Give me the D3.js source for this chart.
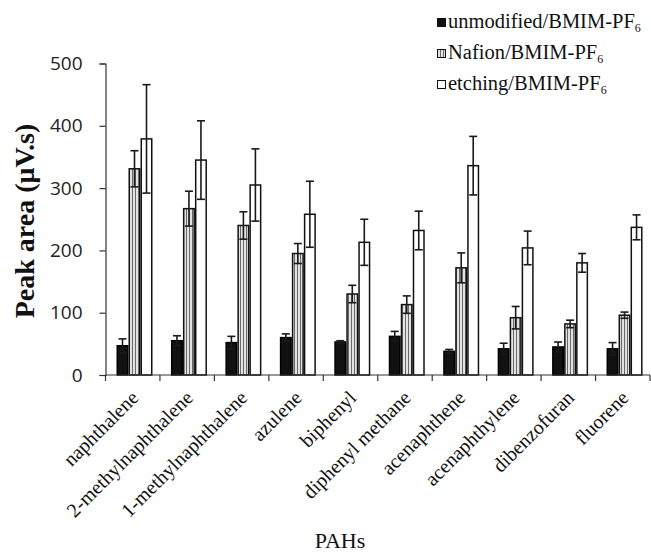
<!DOCTYPE html>
<html>
<head>
<meta charset="utf-8">
<script src="https://cdn.jsdelivr.net/npm/d3@7"></script>
<style>
  html, body { margin: 0; padding: 0; background: #fff; }
  svg { display: block; }
</style>
</head>
<body>
<script>
const categories = ["naphthalene","2-methylnaphthalene","1-methylnaphthalene","azulene","biphenyl","diphenyl methane","acenaphthene","acenaphthylene","dibenzofuran","fluorene"];
const seriesNames = ["unmodified/BMIM-PF", "Nafion/BMIM-PF", "etching/BMIM-PF"];
const unmodified    = [47, 55, 52, 60, 53, 62, 38, 42, 45, 42];
const unmodifiedErr = [11, 8, 10, 6, 2, 8, 3, 9, 8, 10];
const nafion        = [331, 267, 240, 195, 130, 113, 172, 92, 82, 96];
const nafionErr     = [29, 28, 22, 16, 14, 14, 24, 18, 6, 5];
const etching       = [379, 345, 305, 258, 213, 232, 336, 204, 180, 237];
const etchingErr    = [87, 63, 58, 53, 37, 31, 47, 27, 15, 20];
const yTicks = [0, 100, 200, 300, 400, 500];

const W = 651, H = 553;
const svg = d3.select("body").append("svg").attr("width", W).attr("height", H);

const defs = svg.append("defs");
const pat = defs.append("pattern").attr("id", "stripes").attr("patternUnits", "userSpaceOnUse")
  .attr("width", 3).attr("height", 4);
pat.append("rect").attr("width", 3).attr("height", 4).attr("fill", "#e2e2e2");
pat.append("rect").attr("x", 0).attr("width", 1).attr("height", 4).attr("fill", "#6a6a6a");

const x0 = 105.5, x1 = 650, yTop = 63.5, yBot = 375;
const x = d3.scaleBand().domain(categories).range([x0, x1]).paddingInner(0).paddingOuter(0);
const y = d3.scaleLinear().domain([0, 500]).range([yBot, yTop]);
const sub = d3.scaleBand().domain([0,1,2]).range([11, 47]).padding(0);

const series = [
  {vals: unmodified, errs: unmodifiedErr, fill: "#111", stroke: "#000"},
  {vals: nafion, errs: nafionErr, fill: "url(#stripes)", stroke: "#111"},
  {vals: etching, errs: etchingErr, fill: "#fff", stroke: "#111"}
];

const g = svg.append("g");
series.forEach((s, si) => {
  categories.forEach((c, i) => {
    const bx = x(c) + sub(si);
    const bw = sub.bandwidth();
    g.append("rect")
      .attr("x", bx + 0.75).attr("y", y(s.vals[i]))
      .attr("width", bw - 1.5).attr("height", y(0) - y(s.vals[i]))
      .attr("fill", s.fill).attr("stroke", s.stroke).attr("stroke-width", 1.5);
  });
});
// error bars
series.forEach((s, si) => {
  categories.forEach((c, i) => {
    const cx = x(c) + sub(si) + sub.bandwidth() / 2;
    const top = y(s.vals[i] + s.errs[i]), bot = y(s.vals[i] - s.errs[i]);
    const eg = g.append("g").attr("stroke", "#1a1a1a").attr("stroke-width", 1.6);
    eg.append("line").attr("x1", cx).attr("x2", cx).attr("y1", top).attr("y2", bot);
    eg.append("line").attr("x1", cx - 4).attr("x2", cx + 4).attr("y1", top).attr("y2", top);
    eg.append("line").attr("x1", cx - 4).attr("x2", cx + 4).attr("y1", bot).attr("y2", bot);
  });
});

// y axis
const yAxis = d3.axisLeft(y).tickValues(yTicks).tickSize(6).tickPadding(17);
const ya = svg.append("g").attr("transform", `translate(${x0},0)`).call(yAxis);
ya.select(".domain").attr("stroke", "#333").attr("stroke-width", 1.2);
ya.selectAll(".tick line").attr("stroke", "#333").attr("stroke-width", 1.2);
ya.selectAll(".tick text").attr("font-family", "'Open Sans', sans-serif").attr("font-size", 19).attr("fill", "#222");

// x axis with ticks at category boundaries
const xa = svg.append("g").attr("transform", `translate(0,${yBot})`);
xa.append("line").attr("x1", x0).attr("x2", x1).attr("stroke", "#333").attr("stroke-width", 1.2);
const bounds = categories.map(c => x(c) + x.bandwidth()).concat([x0]);
xa.selectAll("line.tk").data(bounds).enter().append("line").attr("class", "tk")
  .attr("x1", d => d).attr("x2", d => d).attr("y1", 0).attr("y2", 6)
  .attr("stroke", "#333").attr("stroke-width", 1.2);
xa.selectAll("text").data(categories).enter().append("text")
  .attr("transform", d => `translate(${x(d) + x.bandwidth()/2 + 7},${24}) rotate(-45)`)
  .attr("text-anchor", "end")
  .attr("font-family", "'Liberation Serif', 'Times New Roman', serif")
  .attr("font-size", 20).attr("fill", "#111")
  .text(d => d);

// axis titles
svg.append("text").attr("transform", "translate(34,221) rotate(-90)")
  .attr("text-anchor", "middle")
  .attr("font-family", "'Liberation Serif', 'Times New Roman', serif")
  .attr("font-weight", "bold").attr("font-size", 28).attr("fill", "#111")
  .text("Peak area (μV.s)");
svg.append("text").attr("x", 340).attr("y", 548).attr("text-anchor", "middle")
  .attr("font-family", "'Liberation Serif', 'Times New Roman', serif")
  .attr("font-size", 22).attr("fill", "#111").text("PAHs");

// legend
const leg = svg.append("g").attr("transform", "translate(437,0)");
const legFills = ["#111", "url(#stripes)", "#fff"];
seriesNames.forEach((n, i) => {
  const row = leg.append("g").attr("transform", `translate(0,${18 + i * 31})`);
  row.append("rect").attr("x", 0.5).attr("y", 0.5).attr("width", 8).attr("height", 8)
    .attr("fill", legFills[i]).attr("stroke", "#111").attr("stroke-width", 1);
  const t = row.append("text").attr("x", 11).attr("y", 9.5)
    .attr("font-family", "'Liberation Serif', 'Times New Roman', serif")
    .attr("font-size", 20.5).attr("fill", "#111");
  t.append("tspan").text(n);
  t.append("tspan").attr("font-size", 12).attr("dy", 4).text("6");
});
</script>
</body>
</html>
